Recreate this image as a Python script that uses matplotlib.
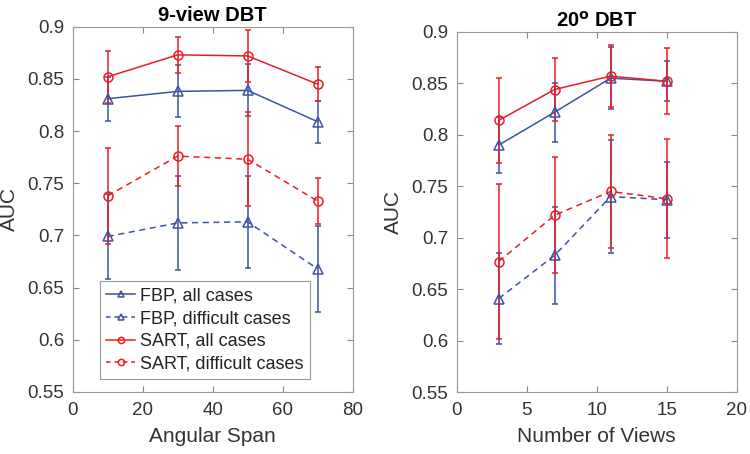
import numpy as np
import matplotlib.pyplot as plt
from matplotlib.lines import Line2D

plt.rcParams['font.family'] = ['Liberation Sans', 'DejaVu Sans']

# left panel: 9-view DBT vs angular span
span = [10, 30, 50, 70]
fbp_all_span = [0.831, 0.838, 0.839, 0.809]
fbp_all_span_err = [0.021, 0.025, 0.025, 0.020]
fbp_diff_span = [0.699, 0.712, 0.713, 0.668]
fbp_diff_span_err = [0.041, 0.045, 0.044, 0.041]
sart_all_span = [0.852, 0.873, 0.872, 0.845]
sart_all_span_err = [0.025, 0.017, 0.025, 0.016]
sart_diff_span = [0.738, 0.776, 0.773, 0.733]
sart_diff_span_err = [0.046, 0.029, 0.045, 0.022]

# right panel: 20 degree DBT vs number of views
views = [3, 7, 11, 15]
fbp_all_views = [0.790, 0.822, 0.855, 0.852]
fbp_all_views_err = [0.027, 0.0285, 0.030, 0.0195]
fbp_diff_views = [0.641, 0.683, 0.740, 0.737]
fbp_diff_views_err = [0.044, 0.047, 0.055, 0.037]
sart_all_views = [0.814, 0.844, 0.857, 0.852]
sart_all_views_err = [0.0415, 0.031, 0.030, 0.032]
sart_diff_views = [0.677, 0.722, 0.745, 0.738]
sart_diff_views_err = [0.0755, 0.0565, 0.055, 0.058]

labels = ['FBP, all cases', 'FBP, difficult cases',
          'SART, all cases', 'SART, difficult cases']
blue = '#3b54a3'
red = '#ec1c24'
txt = '#333333'
yticks = [0.55, 0.6, 0.65, 0.7, 0.75, 0.8, 0.85, 0.9]
ytick_labels = ['0.55', '0.6', '0.65', '0.7', '0.75', '0.8', '0.85', '0.9']

fig = plt.figure(figsize=(7.5, 4.54), dpi=100)
ax1 = fig.add_axes([0.097, 0.1366, 0.373, 0.8046])
ax2 = fig.add_axes([0.609, 0.1359, 0.373, 0.794])


def draw(ax, x, series):
    for y, e, c, ls, m in series:
        ax.errorbar(x, y, yerr=e, color=c, ls=ls, lw=1.1, marker=m, ms=6.5,
                    mfc='none', mec=c, mew=1.1, capsize=2.5, elinewidth=1.1,
                    capthick=1.1, dashes=(4, 3) if ls == '--' else (None, None))


styles = [(blue, '-', '^'), (blue, '--', '^'), (red, '-', 'o'), (red, '--', 'o')]
s1 = [(fbp_all_span, fbp_all_span_err), (fbp_diff_span, fbp_diff_span_err),
      (sart_all_span, sart_all_span_err), (sart_diff_span, sart_diff_span_err)]
s2 = [(fbp_all_views, fbp_all_views_err), (fbp_diff_views, fbp_diff_views_err),
      (sart_all_views, sart_all_views_err), (sart_diff_views, sart_diff_views_err)]

draw(ax1, span, [d + s for d, s in zip(s1, styles)])
draw(ax2, views, [d + s for d, s in zip(s2, styles)])

for ax in (ax1, ax2):
    ax.set_ylim(0.55, 0.9)
    ax.set_yticks(yticks)
    ax.set_yticklabels(ytick_labels)
    ax.tick_params(direction='in', top=True, right=True, labelsize=13.5,
                   color='#888888', labelcolor=txt, length=4)
    ax.tick_params(axis='x', pad=7)
    ax.tick_params(axis='y', pad=6)
    for sp in ax.spines.values():
        sp.set_color('#999999')
        sp.set_linewidth(0.8)
    ax.set_ylabel('AUC', fontsize=15, color=txt, labelpad=6)

ax1.set_xlim(0, 80)
ax1.set_xticks([0, 20, 40, 60, 80])
ax1.set_xlabel('Angular Span', fontsize=15, color=txt, labelpad=6)
ax1.set_title('9-view DBT', fontsize=14.5, fontweight='bold', pad=4)

ax2.set_xlim(0, 20)
ax2.set_xticks([0, 5, 10, 15, 20])
ax2.set_xlabel('Number of Views', fontsize=15, color=txt, labelpad=6)
ax2.set_title(r'20$^{\mathbf{o}}$ DBT', fontsize=14.5, fontweight='bold', pad=4)

handles = [Line2D([], [], color=c, ls=ls, lw=1.1, marker=m, ms=4.5, mfc='none',
                  mec=c, mew=1.1, dashes=(3, 2.5) if ls == '--' else (None, None))
           for c, ls, m in styles]
leg = ax1.legend(handles, labels, loc='lower left', bbox_to_anchor=(0.0975, 0.0356),
                 fontsize=13, handlelength=1.6, handletextpad=0.25,
                 labelspacing=0.32, borderpad=0.35, borderaxespad=0, fancybox=False,
                 framealpha=1, edgecolor='#999999')
leg.get_frame().set_linewidth(0.8)
for t in leg.get_texts():
    t.set_color('#222222')

fig.savefig('out.png', dpi=100)
